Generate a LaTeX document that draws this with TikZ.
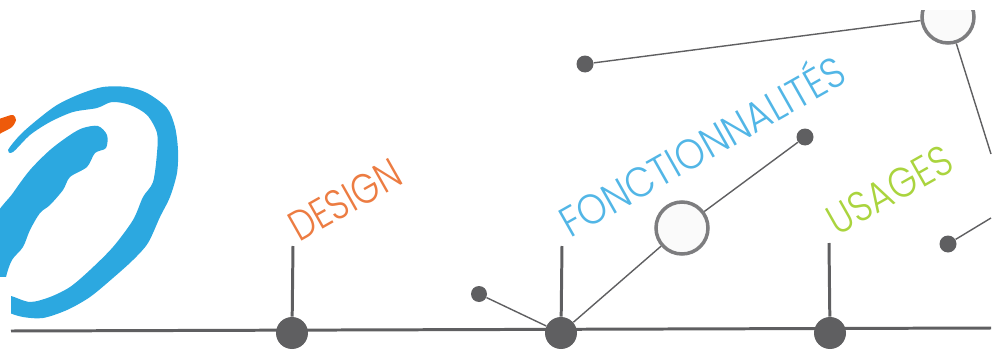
\documentclass[tikz,border=0pt]{standalone}
\usepackage{fontspec}
\setmainfont{Poppins Light}
\usepackage{xcolor}
\definecolor{linegray}{RGB}{95,95,97}
\definecolor{ringgray}{RGB}{125,125,127}
\definecolor{logoblue}{RGB}{44,168,224}
\definecolor{logoorange}{RGB}{238,90,10}
\definecolor{designorange}{RGB}{236,124,66}
\definecolor{fonctblue}{RGB}{82,182,230}
\definecolor{usagegreen}{RGB}{170,212,62}
\usetikzlibrary{positioning,calc}
\tikzset{
  hub/.style={circle,fill=linegray,inner sep=0pt,minimum size=0.64cm},
  dot/.style={circle,fill=linegray,inner sep=0pt,minimum size=0.34cm},
  ring/.style={circle,draw=ringgray,line width=2pt,fill=white!98!black,inner sep=0pt,minimum size=1.04cm},
  thinlink/.style={draw=linegray,line width=0.8pt},
  stem/.style={draw=linegray,line width=1.7pt},
  title/.style={rotate=29.5,anchor=base,inner sep=0pt,font=\fontsize{24}{24}\selectfont}
}
\begin{document}
\begin{tikzpicture}[x=0.02cm,y=-0.02cm]
  \useasboundingbox (0,0) rectangle (995,352);
  % logo
  \fill[logoorange] plot[smooth cycle,tension=0.5] coordinates {(-6,122) (5,117) (13,115) (16,120) (12,127) (3,132) (-6,136)};
  \fill[logoblue] plot[smooth cycle,tension=0.5] coordinates {(8,150) (20,135) (37,120) (57,105) (80,94) (103,87) (127,87) (147,93) (167,108) (175,127) (178,150) (177,173) (170,197) (160,217) (148,243) (133,260) (113,278) (90,297) (67,310) (43,318) (23,317) (8,312) (0,303) (2,296) (11,296) (30,302) (50,297) (70,287) (90,270) (113,247) (133,220) (143,197) (153,182) (157,153) (157,133) (147,115) (130,105) (112,102) (97,108) (73,112) (50,122) (30,135) (13,152)};
  \fill[logoblue] plot[smooth cycle,tension=0.5] coordinates {(-8,225) (13,193) (30,170) (50,150) (70,135) (83,128) (98,126) (107,135) (106,148) (95,153) (87,167) (70,177) (63,190) (50,205) (40,213) (30,230) (23,247) (12,260) (6,277) (4,295) (-8,295)};
  \fill[white] (-1,277) rectangle (11,353);
  % timeline
  \coordinate (lineL) at (11,331);
  \coordinate (lineR) at (991,328);
  \draw[stem] (lineL) -- (lineR);
  \node[hub] (designHub) at (292,333) {};
  \node[hub] (fonctHub) at (561,333) {};
  \node[hub] (usageHub) at (830,333) {};
  \coordinate (designTop) at (293,246);
  \coordinate (fonctTop) at (562,246);
  \coordinate (usageTop) at (829,243);
  \draw[stem] (designTop) -- (designHub);
  \draw[stem] (fonctTop) -- (fonctHub);
  \draw[stem] (usageTop) -- (usageHub);
  % network
  \node[dot,minimum size=0.32cm] (leftDot) at (479,294) {};
  \node[dot] (topDot) at (585,64) {};
  \node[dot] (midDot) at (805,137) {};
  \node[dot] (rightDot) at (948,244) {};
  \node[ring] (midRing) at (682,228) {};
  \node[ring] (topRing) at (948,17) {};
  \coordinate (edgeA) at (991,154);
  \coordinate (edgeB) at (991,218);
  \draw[thinlink] (leftDot) -- (fonctHub);
  \draw[thinlink] (fonctHub) -- (midRing);
  \draw[thinlink] (midRing) -- (midDot);
  \draw[thinlink] (topDot) -- (topRing);
  \draw[thinlink] (topRing) -- (edgeA);
  \draw[thinlink] (rightDot) -- (edgeB);
  \fill[white] (900,-1) rectangle (996,10);
  % titles
  \node[title,text=designorange,xscale=0.83] (designText) at (352,213) {DESIGN};
  \node[title,text=fonctblue,xscale=0.89] (fonctText) at (710,160) {FONCTIONNALITÉS};
  \node[title,text=usagegreen,xscale=0.86] (usageText) at (897,203) {USAGES};
\end{tikzpicture}
\end{document}
